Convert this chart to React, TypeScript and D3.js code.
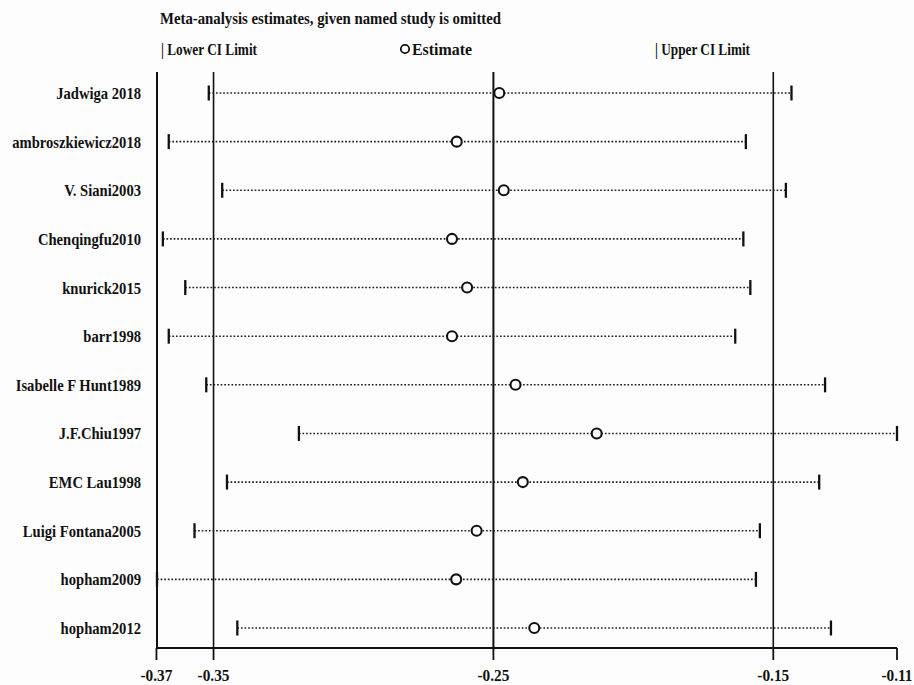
import React from "react";
import * as d3 from "d3";

const studies = [
  "Jadwiga 2018",
  "ambroszkiewicz2018",
  "V. Siani2003",
  "Chenqingfu2010",
  "knurick2015",
  "barr1998",
  "Isabelle F Hunt1989",
  "J.F.Chiu1997",
  "EMC Lau1998",
  "Luigi Fontana2005",
  "hopham2009",
  "hopham2012",
];
const lowerCI = [-0.3517, -0.366, -0.3469, -0.3681, -0.3601, -0.366, -0.3526, -0.3195, -0.3452, -0.3568, -0.3702, -0.3415];
const estimate = [-0.2479, -0.2631, -0.2463, -0.2648, -0.2594, -0.2648, -0.2421, -0.2131, -0.2395, -0.256, -0.2633, -0.2354];
const upperCI = [-0.1435, -0.1598, -0.1455, -0.1607, -0.1582, -0.1636, -0.1315, -0.1058, -0.1336, -0.1548, -0.1562, -0.1294];
const refLines = [-0.35, -0.25, -0.15];
const tickValues = [-0.3704, -0.35, -0.25, -0.15, -0.1058];
const tickLabels = ["-0.37", "-0.35", "-0.25", "-0.15", "-0.11"];

const W = 914;
const H = 685;
const FONT = "'Liberation Serif', 'DejaVu Serif', serif";

export default function App() {
  const x = d3.scaleLinear().domain([d3.min(lowerCI)!, d3.max(upperCI)!]).range([157, 897]);
  const y = d3.scalePoint<string>().domain(studies).range([93, 628]);
  const top = 72;
  const axisY = 648;
  const cond = (tx: number, ty: number, s = 0.88) => `translate(${tx},${ty}) scale(${s},1)`;

  return (
    <svg
      width={W}
      height={H}
      style={{ position: "absolute", left: 0, top: 0, background: "#ffffff" }}
      fontFamily={FONT}
    >
      <rect width={W} height={H} fill="#fdfdfd" />
      {/* title & legend */}
      <text x={160} y={24} fontSize={17} fontWeight="bold" fill="#111" textLength={341} lengthAdjust="spacingAndGlyphs">
        Meta-analysis estimates, given named study is omitted
      </text>
      <text x={161} y={55} fontSize={17} fontWeight="bold" fill="#111" textLength={96} lengthAdjust="spacingAndGlyphs">
        | Lower CI Limit
      </text>
      <circle cx={405} cy={49} r={4.2} fill="none" stroke="#111" strokeWidth={1.8} />
      <text x={412} y={55} fontSize={17} fontWeight="bold" fill="#111" textLength={60} lengthAdjust="spacingAndGlyphs">
        Estimate
      </text>
      <text x={655} y={55} fontSize={17} fontWeight="bold" fill="#111" textLength={95} lengthAdjust="spacingAndGlyphs">
        | Upper CI Limit
      </text>

      {/* left axis line */}
      <line x1={x.range()[0]} x2={x.range()[0]} y1={top} y2={axisY} stroke="#111" strokeWidth={2} />
      {/* reference lines */}
      {refLines.map((v) => (
        <line key={v} x1={x(v)} x2={x(v)} y1={top} y2={axisY} stroke="#111" strokeWidth={v === -0.25 ? 2 : 1.6} />
      ))}
      {/* bottom axis */}
      <line x1={x.range()[0] - 1} x2={x.range()[1]} y1={axisY} y2={axisY} stroke="#111" strokeWidth={2} />
      {tickValues.map((v, i) => (
        <g key={i}>
          <line x1={x(v)} x2={x(v)} y1={axisY} y2={axisY + 12} stroke="#111" strokeWidth={1.8} />
          <text
            transform={cond(x(v), 681, 0.9)}
            textAnchor="middle"
            fontSize={17}
            fontWeight="bold"
            fill="#111"
          >
            {tickLabels[i]}
          </text>
        </g>
      ))}

      {/* rows */}
      {studies.map((s, i) => {
        const yy = y(s)!;
        return (
          <g key={s}>
            <text transform={cond(141, yy + 6, 0.86)} textAnchor="end" fontSize={17} fontWeight="bold" fill="#111">
              {s}
            </text>
            <line
              x1={x(lowerCI[i])}
              x2={x(upperCI[i])}
              y1={yy}
              y2={yy}
              stroke="#222"
              strokeWidth={1.6}
              strokeDasharray="1.7,1.9"
            />
            <line x1={x(lowerCI[i])} x2={x(lowerCI[i])} y1={yy - 7.5} y2={yy + 7.5} stroke="#111" strokeWidth={2.3} />
            <line x1={x(upperCI[i])} x2={x(upperCI[i])} y1={yy - 7.5} y2={yy + 7.5} stroke="#111" strokeWidth={2.3} />
            <circle cx={x(estimate[i])} cy={yy} r={5} fill="#fdfdfd" stroke="#111" strokeWidth={2.1} />
          </g>
        );
      })}
    </svg>
  );
}
